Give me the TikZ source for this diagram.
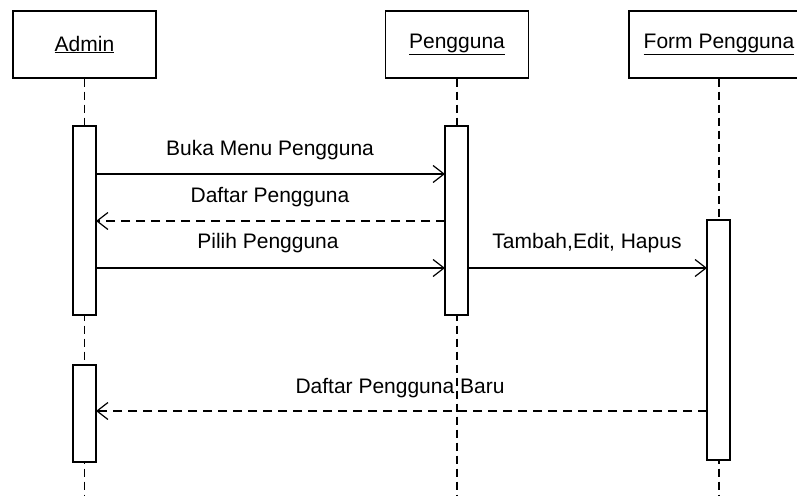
\documentclass[tikz,border=0pt]{standalone}
\usepackage{fontspec}
\setmainfont{Liberation Sans}
\usetikzlibrary{arrows.meta}
\tikzset{
    head/.style={draw, minimum height=67pt, inner sep=0pt, font=\fontsize{21}{25}\selectfont},
    act/.style={draw, fill=white, minimum width=23pt, inner sep=0pt},
    life/.style={dash pattern=on 8pt off 5pt},
    msg/.style={-{Straight Barb[length=11pt,width=17pt]}},
    reply/.style={msg, dash pattern=on 9pt off 6pt},
    lbl/.style={anchor=base, inner sep=0pt, font=\fontsize{21}{25}\selectfont}
}
\newcommand{\lifeline}[2]{
    \coordinate (#1end) at (#2,495);
    \draw[life] (#1.south) -- (#1end);
}

\begin{document}
\begin{tikzpicture}[x=1pt, y=-1pt, line width=1.2pt]
        \clip (0,0) rectangle (797,495);
        % heads
        \node[head, minimum width=143pt] (admin) at (84.5,44.5) {\underline{Admin}};
        \node[head, minimum width=143pt] (pengguna) at (457,44.5) {\underline{Pengguna}};
        \node[head, minimum width=180pt] (form) at (719,44.5) {\underline{Form Pengguna}};
        \lifeline{admin}{84.5}
        \lifeline{pengguna}{457}
        \lifeline{form}{719}
        % activations
        \node[act, minimum height=189pt] (actA) at (84.5,220.5) {};
        \node[act, minimum height=97pt] (actB) at (84.5,413.5) {};
        \node[act, minimum height=189pt] (actP) at (456.5,220.5) {};
        \node[act, minimum height=240pt] (actF) at (718.5,340) {};
        % message ends
        \coordinate (m1a) at (96,174);   \coordinate (m1b) at (445,174);
        \coordinate (m2a) at (445,221);  \coordinate (m2b) at (96,221);
        \coordinate (m3a) at (96,268);   \coordinate (m3b) at (445,268);
        \coordinate (m4a) at (468,268);  \coordinate (m4b) at (707,268);
        \coordinate (m5a) at (707,411);  \coordinate (m5b) at (96,411);
        \draw[msg] (m1a) -- (m1b);
        \draw[reply] (m2a) -- (m2b);
        \draw[msg] (m3a) -- (m3b);
        \draw[msg] (m4a) -- (m4b);
        \draw[reply] (m5a) -- (m5b);
        % labels
        \node[lbl] (t1) at (270,155) {Buka Menu Pengguna};
        \node[lbl] (t2) at (270,202) {Daftar Pengguna};
        \node[lbl] (t3) at (268,248) {Pilih Pengguna};
        \node[lbl] (t4) at (587,248) {Tambah,Edit, Hapus};
        \node[lbl] (t5) at (400,393) {Daftar Pengguna Baru};
\end{tikzpicture}
\end{document}
